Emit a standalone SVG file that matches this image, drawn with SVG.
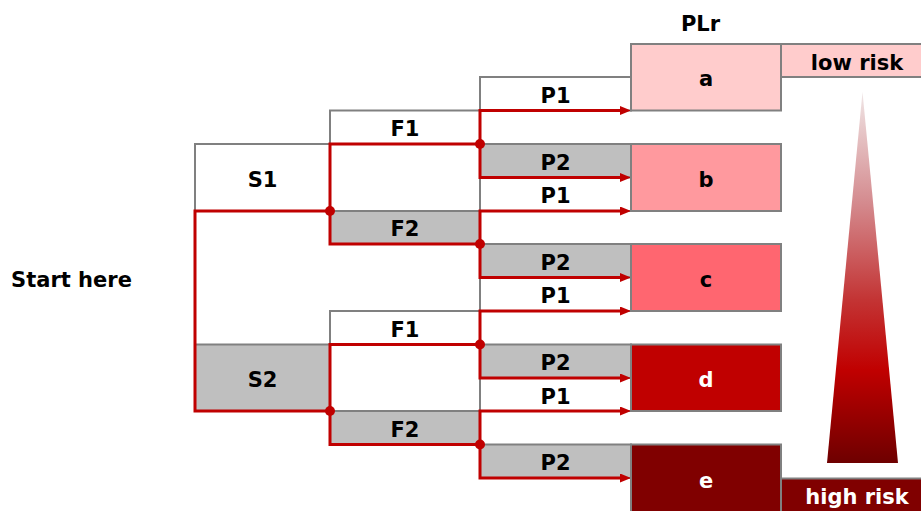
<svg xmlns="http://www.w3.org/2000/svg" width="921" height="511" viewBox="0 0 921 511">
<style>
.box{stroke:#808080;stroke-width:2}
.w{fill:#ffffff}
.g{fill:#bfbfbf}
.red{fill:none;stroke:#c00000;stroke-width:3}
.arr{fill:none;stroke:#c00000;stroke-width:3;marker-end:url(#ah)}
.dot{fill:#c00000}
text{font-family:"DejaVu Sans","Liberation Sans",sans-serif;font-weight:bold;font-size:21px;text-anchor:middle;fill:#000}
.wt{fill:#ffffff}
</style>
<defs>
<marker id="ah" markerUnits="userSpaceOnUse" markerWidth="12" markerHeight="10" refX="2" refY="4.5" orient="auto">
<path d="M0,0 L11,4.5 L0,9 z" fill="#c00000"/>
</marker>
<linearGradient id="risk" x1="0" y1="92" x2="0" y2="463" gradientUnits="userSpaceOnUse">
<stop offset="0" stop-color="#f0e6e6"/>
<stop offset="0.3" stop-color="#d48a8e"/>
<stop offset="0.56" stop-color="#c33434"/>
<stop offset="0.75" stop-color="#c00000"/>
<stop offset="1" stop-color="#6e0000"/>
</linearGradient>
</defs>

<text x="71.5" y="287.3">Start here</text>
<text x="700.5" y="30.7">PLr</text>

<g id="S1"><rect class="box w" x="195" y="144" width="135" height="67"/><text x="262.5" y="187">S1</text></g>
<g id="S2"><rect class="box g" x="195" y="344.5" width="135" height="66.5"/><text x="262.5" y="387">S2</text></g>

<g id="F1a"><rect class="box w" x="330" y="110.5" width="150" height="33.5"/><text x="405" y="136">F1</text></g>
<g id="F2a"><rect class="box g" x="330" y="211" width="150" height="33"/><text x="405" y="236">F2</text></g>
<g id="F1b"><rect class="box w" x="330" y="311" width="150" height="33.5"/><text x="405" y="336.5">F1</text></g>
<g id="F2b"><rect class="box g" x="330" y="411" width="150" height="33.5"/><text x="405" y="436.5">F2</text></g>

<g id="P1a"><rect class="box w" x="480" y="77" width="151" height="33.5"/><text x="555.5" y="102.7">P1</text></g>
<g id="P2a"><rect class="box g" x="480" y="144" width="151" height="33.5"/><text x="555.5" y="169.5">P2</text></g>
<g id="P1b"><rect class="box w" x="480" y="177.5" width="151" height="33.5"/><text x="555.5" y="203">P1</text></g>
<g id="P2b"><rect class="box g" x="480" y="244" width="151" height="33.5"/><text x="555.5" y="269.5">P2</text></g>
<g id="P1c"><rect class="box w" x="480" y="277.5" width="151" height="33.5"/><text x="555.5" y="303">P1</text></g>
<g id="P2c"><rect class="box g" x="480" y="344.5" width="151" height="33.5"/><text x="555.5" y="370">P2</text></g>
<g id="P1d"><rect class="box w" x="480" y="378" width="151" height="33"/><text x="555.5" y="403.5">P1</text></g>
<g id="P2d"><rect class="box g" x="480" y="444.5" width="151" height="33.5"/><text x="555.5" y="470">P2</text></g>

<g id="connectors">
<path class="red" d="M330,211 H195 V411 H330"/>
<path class="red" d="M480,144 H330 V244 H480"/>
<path class="red" d="M480,344.5 H330 V444.5 H480"/>
<path class="arr" d="M480,144 V110.5 H622"/>
<path class="arr" d="M480,144 V177.5 H622"/>
<path class="arr" d="M480,244 V211 H622"/>
<path class="arr" d="M480,244 V277.5 H622"/>
<path class="arr" d="M480,344.5 V311 H622"/>
<path class="arr" d="M480,344.5 V378 H622"/>
<path class="arr" d="M480,444.5 V411 H622"/>
<path class="arr" d="M480,444.5 V478 H622"/>
<circle class="dot" cx="330" cy="211" r="5"/>
<circle class="dot" cx="330" cy="411" r="5"/>
<circle class="dot" cx="480" cy="144" r="5"/>
<circle class="dot" cx="480" cy="244" r="5"/>
<circle class="dot" cx="480" cy="344.5" r="5"/>
<circle class="dot" cx="480" cy="444.5" r="5"/>
</g>

<g id="a"><rect class="box" fill="#ffcccc" x="631" y="44" width="150" height="66.5"/><text x="706" y="86">a</text></g>
<g id="b"><rect class="box" fill="#ff999e" x="631" y="144" width="150" height="67"/><text x="706" y="187">b</text></g>
<g id="c"><rect class="box" fill="#ff6670" x="631" y="244" width="150" height="67"/><text x="706" y="287">c</text></g>
<g id="d"><rect class="box" fill="#c00000" x="631" y="344.5" width="150" height="66.5"/><text class="wt" x="706" y="387">d</text></g>
<g id="e"><rect class="box" fill="#800000" x="631" y="444.5" width="150" height="68"/><text class="wt" x="706" y="488">e</text></g>

<g id="lowrisk"><rect class="box" fill="#ffcccc" x="781" y="44" width="142" height="33"/><text x="857" y="69.5">low risk</text></g>
<g id="highrisk"><rect class="box" fill="#800000" x="781" y="478.5" width="142" height="34"/><text class="wt" x="857" y="503.5">high risk</text></g>

<polygon id="scale" points="862.5,92 898,463 827,463" fill="url(#risk)"/>
</svg>
